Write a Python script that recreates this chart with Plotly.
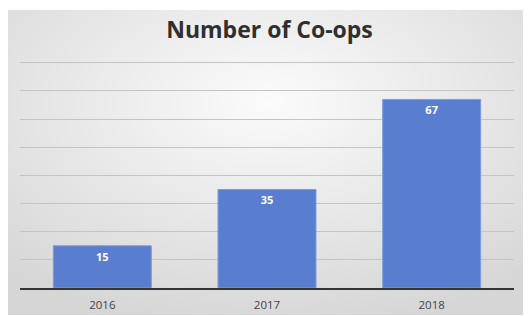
import plotly.graph_objects as go
from urllib.parse import quote

years = ["2016", "2017", "2018"]
coops = [15, 35, 67]
title_text = "Number of Co-ops"

# page has an 8px left body margin, so the figure starts at x=8
W, H = 523, 316
L, R, T, B = 12, 17, 52, 28
pw, ph = W - L - R, H - T - B

svg = ("<svg xmlns='http://www.w3.org/2000/svg' width='523' height='316' preserveAspectRatio='none'>"
       "<defs><radialGradient id='g' cx='50%' cy='30%' r='75%'>"
       "<stop offset='0' stop-color='#fbfbfb'/><stop offset='1' stop-color='#d6d6d6'/>"
       "</radialGradient></defs><rect width='523' height='316' fill='url(#g)'/></svg>")
src = "data:image/svg+xml;charset=utf-8," + quote(svg)

fig = go.Figure(go.Bar(
    x=years, y=coops, text=[str(v) for v in coops],
    textposition="inside", insidetextanchor="end",
    textfont=dict(color="white", size=11, family="Open Sans", weight="bold"),
    marker=dict(color="#5A7ECF", line=dict(color="#7E9AE0", width=1)),
    width=0.595,
))

fig.update_layout(
    width=W, height=H,
    margin=dict(l=L, r=R, t=T, b=B),
    paper_bgcolor="white",
    plot_bgcolor="rgba(0,0,0,0)",
    showlegend=False,
    title=dict(text="<b>" + title_text + "</b>", x=0.5, xanchor="center",
               y=1 - 22 / H, yanchor="middle",
               font=dict(family="Open Sans", size=23, color="#2f2f2f")),
    images=[dict(source=src, xref="paper", yref="paper",
                 x=-L / pw, y=(H - B) / ph,
                 sizex=W / pw, sizey=H / ph,
                 xanchor="left", yanchor="top", sizing="stretch", layer="below")],
    xaxis=dict(showgrid=False, showline=True, linecolor="#333333", linewidth=2,
               tickfont=dict(family="Open Sans", size=11.5, color="#444444"),
               ticks="", ticklabelstandoff=5),
    yaxis=dict(range=[0, 81], tickvals=[10, 20, 30, 40, 50, 60, 70, 80],
               showticklabels=False, showgrid=True,
               gridcolor="#c4c4c4", gridwidth=1, zeroline=False, showline=False),
)

fig.write_html("out.html")
